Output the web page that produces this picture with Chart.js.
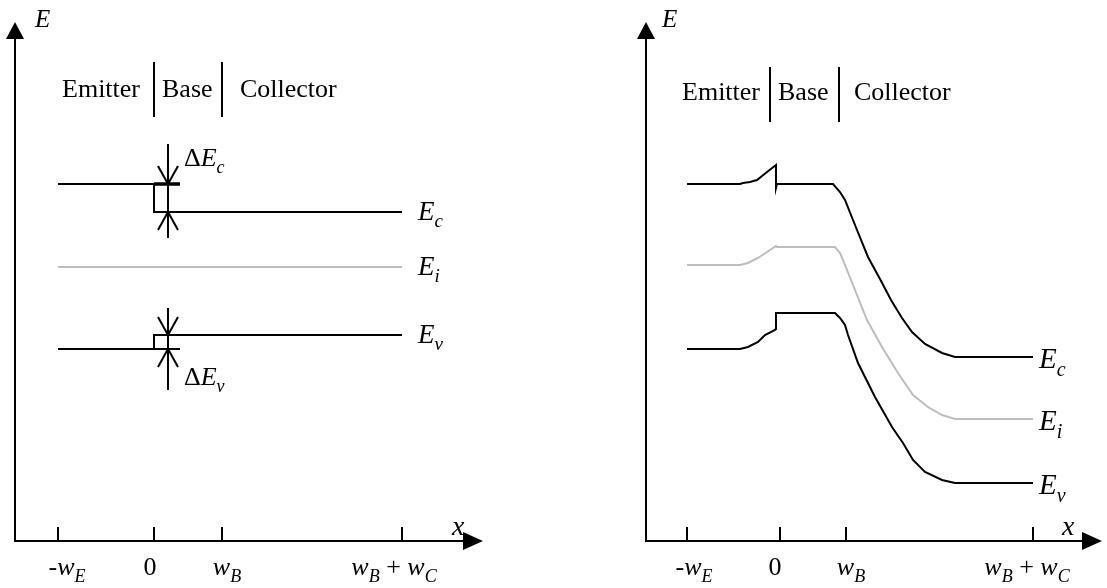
<!DOCTYPE html>
<html>
<head>
<meta charset="utf-8">
<title>HBT band diagram</title>
<script src="https://cdn.jsdelivr.net/npm/chart.js@4.4.1/dist/chart.umd.min.js"></script>
<style>
  html, body { margin: 0; padding: 0; background: #fff; }
  #wrap { position: relative; width: 1107px; height: 588px; }
  canvas { position: absolute; top: 0; }
  #left { left: 0; }
  #right { left: 553px; }
</style>
</head>
<body>
<div id="wrap">
  <canvas id="left" width="553" height="588"></canvas>
  <canvas id="right" width="554" height="588"></canvas>
</div>
<script>
// x: posicion (unidades arbitrarias), y: energia (unidades arbitrarias)
const regions = ["Emitter", "Base", "Collector"];

// Panel izquierdo: bandas abruptas, sin polarizar
const leftTicks = [-96, 0, 68, 248];
const leftBars = [0, 68];
const leftEcX = [-96, 0, 0, 248];
const leftEcY = [3.57, 3.57, 3.29, 3.29];
const leftEiX = [-96, 248];
const leftEiY = [2.74, 2.74];
const leftEvX = [-96, 0, 0, 248];
const leftEvY = [1.92, 1.92, 2.06, 2.06];

// Panel derecho: bandas con union graduada y colector polarizado
const rightTicks = [-93, 0, 66, 253];
const rightBars = [-10, 59];
const rightEcX = [-93, -40, -37, -30, -23, -13, -4, -4, -3, 53, 60, 65, 77, 88, 100, 111, 122, 132, 145, 162, 175, 253];
const rightEcY = [3.57, 3.57, 3.58, 3.59, 3.61, 3.69, 3.76, 3.53, 3.57, 3.57, 3.49, 3.41, 3.11, 2.84, 2.62, 2.41, 2.23, 2.09, 1.97, 1.88, 1.84, 1.84];
const rightEiX = [-93, -40, -32, -22, -13, -4, -3, 55, 60, 63, 75, 87, 102, 118, 133, 148, 162, 175, 253];
const rightEiY = [2.76, 2.76, 2.78, 2.83, 2.89, 2.95, 2.94, 2.94, 2.88, 2.81, 2.51, 2.21, 1.94, 1.68, 1.46, 1.34, 1.26, 1.22, 1.22];
const rightEvX = [-93, -40, -32, -22, -15, -5, -4, -4, 55, 60, 65, 68, 78, 95, 112, 123, 133, 145, 162, 175, 253];
const rightEvY = [1.92, 1.92, 1.94, 1.99, 2.06, 2.11, 2.12, 2.28, 2.28, 2.23, 2.16, 2.06, 1.78, 1.44, 1.14, 0.98, 0.81, 0.69, 0.61, 0.58, 0.58];

// Etiquetas (texto con subindices)
const tickLabels = [
    [{ t: "-" }, { t: "w", it: true }, { t: "E", it: true, sub: true }],
    [{ t: "0" }],
    [{ t: "w", it: true }, { t: "B", it: true, sub: true }],
    [{ t: "w", it: true }, { t: "B", it: true, sub: true }, { t: " + " }, { t: "w", it: true }, { t: "C", it: true, sub: true }]
];
const bandLabels = [
    [{ t: "E", it: true }, { t: "c", it: true, sub: true }],
    [{ t: "E", it: true }, { t: "i", it: true, sub: true }],
    [{ t: "E", it: true }, { t: "v", it: true, sub: true }]
];
const deltaEc = [{ t: "\u0394" }, { t: "E", it: true }, { t: "c", it: true, sub: true }];
const deltaEv = [{ t: "\u0394" }, { t: "E", it: true }, { t: "v", it: true, sub: true }];

const FONT = '"Liberation Serif", "Times New Roman", serif';
const BLACK = "#000000";
const GREY = "#bdbdbd";

function fontFor(p, size) {
    const s = p.sub ? Math.round(size * 0.7) : size;
    return (p.it ? "italic " : "") + s + "px " + FONT;
}

function richWidth(ctx, parts, size) {
    let w = 0;
    parts.forEach(p => { ctx.font = fontFor(p, size); w += ctx.measureText(p.t).width; });
    return w;
}

function drawRich(ctx, parts, x, y, size, align) {
    let cx = x;
    if (align === "center") cx = x - richWidth(ctx, parts, size) / 2;
    ctx.textAlign = "left";
    ctx.textBaseline = "alphabetic";
    parts.forEach(p => {
        ctx.font = fontFor(p, size);
        ctx.fillText(p.t, cx, p.sub ? y + size * 0.27 : y);
        cx += ctx.measureText(p.t).width;
    });
}

function line(ctx, x1, y1, x2, y2, w) {
    ctx.lineWidth = w || 2;
    ctx.beginPath();
    ctx.moveTo(x1, y1);
    ctx.lineTo(x2, y2);
    ctx.stroke();
}

// plugin: ejes con flecha, marcas, etiquetas de region y anotaciones
function makeSketch(cfg) {
    return {
        id: "sketch",
        afterDatasetsDraw(chart) {
            const ctx = chart.ctx;
            const xs = chart.scales.x, ys = chart.scales.y;
            const a = chart.chartArea;
            const px = v => xs.getPixelForValue(v);
            const py = v => ys.getPixelForValue(v);
            ctx.save();
            ctx.strokeStyle = BLACK;
            ctx.fillStyle = BLACK;
            ctx.lineCap = "butt";

            // ejes
            line(ctx, a.left, a.bottom, a.left, a.top + 14);
            line(ctx, a.left - 1, a.bottom, a.right - 18, a.bottom);
            ctx.beginPath();
            ctx.moveTo(a.left, a.top);
            ctx.lineTo(a.left - 9, a.top + 17);
            ctx.lineTo(a.left + 9, a.top + 17);
            ctx.closePath();
            ctx.fill();
            ctx.beginPath();
            ctx.moveTo(a.right, a.bottom);
            ctx.lineTo(a.right - 20, a.bottom - 9);
            ctx.lineTo(a.right - 20, a.bottom + 9);
            ctx.closePath();
            ctx.fill();
            drawRich(ctx, [{ t: "E", it: true }], a.left + cfg.eDx, 27, 25, "left");
            drawRich(ctx, [{ t: "x", it: true }], a.right - cfg.xDx, 535, 28, "left");

            // marcas y etiquetas del eje x
            cfg.ticks.forEach((t, i) => {
                line(ctx, px(t), a.bottom, px(t), a.bottom - 14);
                drawRich(ctx, tickLabels[i], px(t) + cfg.tickNudge[i], 575, 26, "center");
            });

            // Emitter | Base | Collector
            const b1 = px(cfg.bars[0]), b2 = px(cfg.bars[1]);
            line(ctx, b1, cfg.barTop, b1, cfg.barTop + 55);
            line(ctx, b2, cfg.barTop, b2, cfg.barTop + 55);
            ctx.font = "26px " + FONT;
            ctx.textBaseline = "alphabetic";
            ctx.textAlign = "right";
            ctx.fillText(regions[0], b1 - cfg.gaps[0], cfg.textY);
            ctx.textAlign = "left";
            ctx.fillText(regions[1], b1 + 8, cfg.textY);
            ctx.fillText(regions[2], b2 + cfg.gaps[1], cfg.textY);

            // etiquetas de bandas
            cfg.bandEnds.forEach((yv, i) => {
                drawRich(ctx, bandLabels[i], px(cfg.labelX), py(yv) + cfg.labelDy, cfg.labelSize, "left");
            });

            // anotaciones Delta Ec / Delta Ev
            (cfg.marks || []).forEach(m => {
                const mx = px(m.x);
                line(ctx, mx, py(m.top), mx, py(m.bottom));
                const up = py(m.upper), lo = py(m.lower);
                line(ctx, mx - 10, up - 18, mx, up);
                line(ctx, mx + 10, up - 18, mx, up);
                line(ctx, mx - 10, lo + 18, mx, lo);
                line(ctx, mx + 10, lo + 18, mx, lo);
                line(ctx, px(0), py(m.tickY), px(m.tickEnd), py(m.tickY), m.tickW);
                drawRich(ctx, m.label, px(m.lx), py(m.ly), 26, "left");
            });
            ctx.restore();
        }
    };
}

function series(xs, ys, color) {
    return {
        data: xs.map((x, i) => ({ x: x, y: ys[i] })),
        showLine: true,
        borderColor: color,
        borderWidth: 2,
        pointRadius: 0,
        tension: 0,
        fill: false
    };
}

function makeChart(id, datasets, xmin, xmax, pad, cfg) {
    return new Chart(document.getElementById(id), {
        type: "scatter",
        data: { datasets: datasets },
        options: {
            responsive: false,
            animation: false,
            devicePixelRatio: 1,
            layout: { padding: pad },
            plugins: { legend: { display: false }, tooltip: { enabled: false } },
            scales: {
                x: { type: "linear", min: xmin, max: xmax, display: false },
                y: { type: "linear", min: 0, max: 5.19, display: false }
            }
        },
        plugins: [makeSketch(cfg)]
    });
}

makeChart("left", [
    series(leftEiX, leftEiY, GREY),
    series(leftEcX, leftEcY, BLACK),
    series(leftEvX, leftEvY, BLACK)
], -139, 329, { left: 15, right: 70, top: 22, bottom: 47 }, {
    ticks: leftTicks,
    tickNudge: [9, -4, 5, -8],
    bars: leftBars,
    barTop: 62,
    textY: 97,
    gaps: [14, 18],
    eDx: 20,
    xDx: 31,
    bandEnds: [leftEcY[3], leftEiY[1], leftEvY[3]],
    labelX: 264,
    labelDy: 8,
    labelSize: 27,
    marks: [
        { x: 14, top: 3.97, bottom: 3.03, upper: leftEcY[0], lower: leftEcY[2], tickY: leftEcY[0], tickEnd: 26, tickW: 3.5, label: deltaEc, lx: 30, ly: 3.75 },
        { x: 14, top: 2.33, bottom: 1.51, upper: leftEvY[2], lower: leftEvY[0], tickY: leftEvY[0], tickEnd: 26, tickW: 2, label: deltaEv, lx: 30, ly: 1.56 }
    ]
});

makeChart("right", [
    series(rightEiX, rightEiY, GREY),
    series(rightEcX, rightEcY, BLACK),
    series(rightEvX, rightEvY, BLACK)
], -134, 322, { left: 93, right: 5, top: 22, bottom: 47 }, {
    ticks: rightTicks,
    tickNudge: [7, -5, 5, -6],
    bars: rightBars,
    barTop: 67,
    textY: 100,
    gaps: [10, 15],
    eDx: 16,
    xDx: 40,
    bandEnds: [rightEcY[rightEcY.length - 1], rightEiY[rightEiY.length - 1], rightEvY[rightEvY.length - 1]],
    labelX: 259,
    labelDy: 11,
    labelSize: 29
});
</script>
</body>
</html>
